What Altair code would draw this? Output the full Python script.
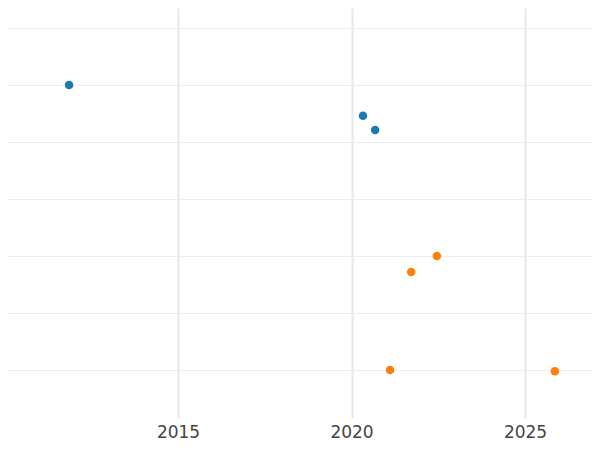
import altair as alt
import pandas as pd

series = ["A", "A", "A", "B", "B", "B", "B"]
years = [2011.86, 2020.33, 2020.68, 2022.46, 2021.72, 2021.11, 2025.86]
values = [6.0, 5.46, 5.21, 3.0, 2.72, 1.0, 0.98]
x_ticks = [2010, 2015, 2020, 2025]
y_ticks = [1, 2, 3, 4, 5, 6, 7]

df = pd.DataFrame({"series": series, "year": years, "value": values})

chart = alt.Chart(df).mark_circle(size=72, opacity=1).encode(
    x=alt.X("year:Q",
            scale=alt.Scale(domain=[2010.10, 2026.93], nice=False, zero=False),
            axis=alt.Axis(values=x_ticks, format="d", title=None, domain=False, ticks=False,
                          labelExpr="datum.value < 2012 ? '' : datum.label",
                          labelFontSize=17, labelColor="#444444", labelFont="DejaVu Sans",
                          labelPadding=6, gridColor="#e8e8e8", gridWidth=2)),
    y=alt.Y("value:Q",
            scale=alt.Scale(domain=[0.158, 7.35], nice=False, zero=False),
            axis=alt.Axis(values=y_ticks, title=None, labels=False, domain=False, ticks=False,
                          gridColor="#ededed", gridWidth=1)),
    color=alt.Color("series:N",
                    scale=alt.Scale(domain=["A", "B"], range=["#1f77b4", "#ff7f0e"]),
                    legend=None),
).properties(
    width=584,
    height=410,
    autosize=alt.AutoSizeParams(type="none"),
    padding={"left": 0, "top": 0, "right": 0, "bottom": 24},
).configure_view(stroke=None)

chart.save("out.html", embed_options={"renderer": "svg", "actions": False})
